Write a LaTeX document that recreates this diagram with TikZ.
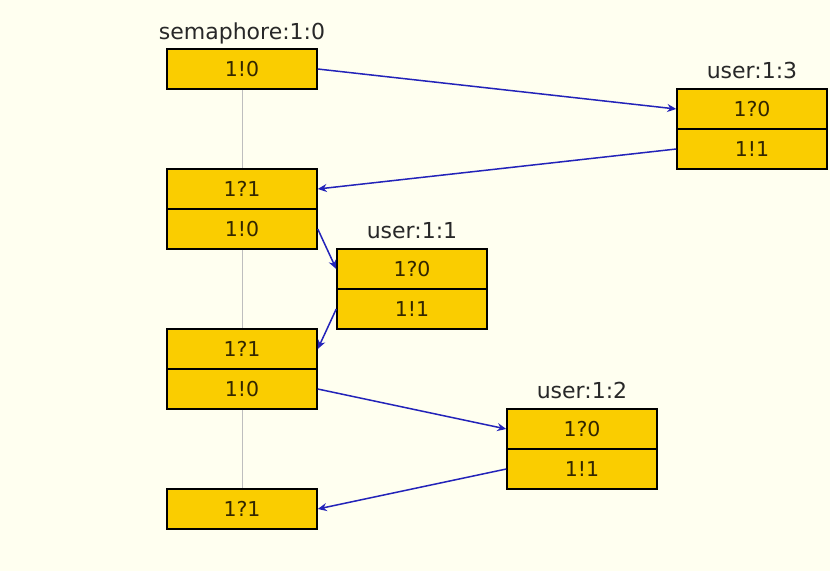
\documentclass[tikz,border=0pt]{standalone}
\usepackage{fontspec}
\setmainfont{DejaVu Sans}
\usetikzlibrary{arrows.meta}
\definecolor{bg}{RGB}{255,255,240}
\definecolor{gold}{RGB}{250,205,0}
\definecolor{boxtext}{RGB}{50,38,0}
\definecolor{lbl}{RGB}{40,40,40}
\definecolor{msg}{RGB}{35,35,185}
\definecolor{life}{RGB}{190,190,190}
\tikzset{
  cell/.style={draw=black, line width=1.5pt, fill=gold, minimum width=150pt, minimum height=40pt,
    inner sep=0pt, text=boxtext, font=\fontsize{20.5}{24}\selectfont},
  lab/.style={anchor=base, inner sep=0pt, text=lbl, font=\fontsize{22}{26}\selectfont},
  msgarrow/.style={draw=msg, line width=1.5pt, -{Stealth[length=9pt,width=8pt]}},
}
\begin{document}
\begin{tikzpicture}[x=1pt,y=-1pt]
\fill[bg] (0,0) rectangle (830,571);
\useasboundingbox (0,0) rectangle (830,571);
% semaphore column
\node[cell] (s0) at (242,69) {1!0};
\node[cell] (s1a) at (242,189) {1?1};
\node[cell] (s1b) at (242,229) {1!0};
\node[cell] (s2a) at (242,349) {1?1};
\node[cell] (s2b) at (242,389) {1!0};
\node[cell] (s3) at (242,509) {1?1};
% users
\node[cell] (u3a) at (752,109) {1?0};
\node[cell] (u3b) at (752,149) {1!1};
\node[cell] (u1a) at (412,269) {1?0};
\node[cell] (u1b) at (412,309) {1!1};
\node[cell] (u2a) at (582,429) {1?0};
\node[cell] (u2b) at (582,469) {1!1};
% labels
\node[lab] (ls) at (242,39) {semaphore:1:0};
\node[lab] (l3) at (752,78) {user:1:3};
\node[lab] (l1) at (412,238) {user:1:1};
\node[lab] (l2) at (582,398) {user:1:2};
% lifeline
\draw[life, line width=1pt] (s0.south) -- (s1a.north);
\draw[life, line width=1pt] (s1b.south) -- (s2a.north);
\draw[life, line width=1pt] (s2b.south) -- (s3.north);
% messages
\draw[msgarrow] (s0.east) -- (u3a.west);
\draw[msgarrow] (u3b.west) -- (s1a.east);
\draw[msgarrow] (s1b.east) -- (u1a.west);
\draw[msgarrow] (u1b.west) -- (s2a.east);
\draw[msgarrow] (s2b.east) -- (u2a.west);
\draw[msgarrow] (u2b.west) -- (s3.east);
\end{tikzpicture}
\end{document}
